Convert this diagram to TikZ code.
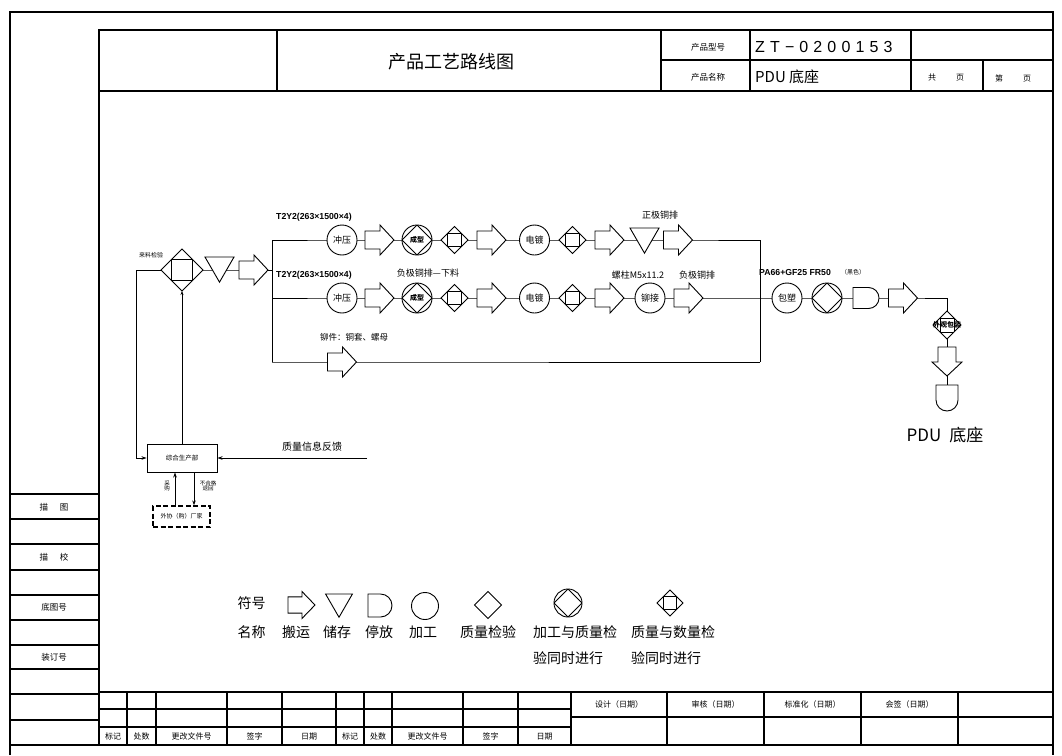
\documentclass[tikz,border=0pt]{standalone}
\usepackage{fontspec}
\setmainfont{Noto Sans CJK SC}
\newfontfamily\lat{Liberation Sans}
\newfontfamily\spc[LetterSpace=32]{Liberation Sans}
\usetikzlibrary{shapes.geometric,shapes.misc,arrows.meta,backgrounds,calc}
\newcommand\fsz[1]{\fontsize{#1}{#1}\selectfont}
\makeatletter
\pgfdeclareshape{carryarrow}{%
  \inheritsavedanchors[from=rectangle]%
  \inheritanchorborder[from=rectangle]%
  \inheritanchor[from=rectangle]{center}%
  \inheritanchor[from=rectangle]{north}%
  \inheritanchor[from=rectangle]{south}%
  \inheritanchor[from=rectangle]{east}%
  \inheritanchor[from=rectangle]{west}%
  \backgroundpath{%
    \southwest \pgf@xa=\pgf@x \pgf@ya=\pgf@y
    \northeast \pgf@xb=\pgf@x \pgf@yb=\pgf@y
    \pgf@xc=.483\pgf@xa \advance\pgf@xc by .517\pgf@xb
    \pgf@yc=.5\pgf@ya \advance\pgf@yc by .5\pgf@yb
    \pgf@x=\pgf@yb \advance\pgf@x by -\pgf@ya \pgf@x=.3\pgf@x
    \pgf@y=\pgf@yc \advance\pgf@y by \pgf@x \edef\cbt{\the\pgf@y}%
    \pgf@y=\pgf@yc \advance\pgf@y by -\pgf@x \edef\cbb{\the\pgf@y}%
    \edef\cxa{\the\pgf@xa}\edef\cxb{\the\pgf@xb}\edef\cxc{\the\pgf@xc}%
    \edef\cya{\the\pgf@ya}\edef\cyb{\the\pgf@yb}\edef\cyc{\the\pgf@yc}%
    \pgfpathmoveto{\pgfqpoint{\cxa}{\cbt}}%
    \pgfpathlineto{\pgfqpoint{\cxc}{\cbt}}%
    \pgfpathlineto{\pgfqpoint{\cxc}{\cyb}}%
    \pgfpathlineto{\pgfqpoint{\cxb}{\cyc}}%
    \pgfpathlineto{\pgfqpoint{\cxc}{\cya}}%
    \pgfpathlineto{\pgfqpoint{\cxc}{\cbb}}%
    \pgfpathlineto{\pgfqpoint{\cxa}{\cbb}}%
    \pgfpathclose
  }%
}
\makeatother
\tikzset{
  frm/.style={line width=1.1pt},
  ln/.style={line width=0.9pt},
  sym/.style={draw, fill=white, line width=0.9pt, inner sep=0pt, outer sep=0pt},
  carry/.style={sym, shape=carryarrow, minimum width=29pt, minimum height=30pt},
  store/.style={sym, regular polygon, regular polygon sides=3, shape border rotate=180, minimum size=33.5pt},
  park/.style={sym, rounded rectangle, rounded rectangle left arc=none, minimum width=26pt, minimum height=21pt},
  proc/.style={sym, circle, minimum size=30pt, font=\fsz{9}},
  procq/.style={proc, path picture={\draw[line width=0.9pt] (path picture bounding box.north) -- (path picture bounding box.east) -- (path picture bounding box.south) -- (path picture bounding box.west) -- cycle;}},
  insp/.style={sym, diamond, aspect=1, minimum width=27pt, minimum height=27pt},
  inspq/.style={insp, path picture={\draw[line width=0.9pt] ($(path picture bounding box.center)!0.5!(path picture bounding box.south west)$) rectangle ($(path picture bounding box.center)!0.5!(path picture bounding box.north east)$);}},
  lbl/.style={inner sep=0pt, font=\fsz{9}},
  tip/.style={-{Stealth[length=5pt,width=3.5pt]}},
}
\begin{document}
\begin{tikzpicture}[x=1pt,y=-1pt]
\useasboundingbox (0,0) rectangle (1062,755);
% ---------- frames ----------
\draw[frm] (10,755) -- (10,12) -- (1053,12) -- (1053,755);
\draw[frm] (99,30) rectangle (1053,745);
\draw[frm] (10,745) -- (99,745);
\draw[frm] (99,91) -- (1053,91);
\foreach \x in {277,661,750,911} \draw[frm] (\x,30) -- (\x,91);
\draw[frm] (983,60) -- (983,91);
\draw[frm] (661,60) -- (1053,60);
% left panel
\foreach \y in {494,519,544,570,595,620,645,669,694,720} \draw[frm] (10,\y) -- (99,\y);
% bottom table
\draw[frm] (99,692) -- (1053,692);
\draw[frm] (99,709) -- (571,709);
\draw[frm] (99,727) -- (571,727);
\draw[frm] (571,717) -- (1053,717);
\foreach \x in {127,156,227,282,336,364,392,463,518,571,667,764,861,958} \draw[frm] (\x,692) -- (\x,745);
% ---------- title texts ----------
\node[lbl,font=\fsz{18}] (ttl) at (451,62) {产品工艺路线图};
\node[lbl,font=\fsz{8.5}] (pxh) at (708,47) {产品型号};
\node[lbl,font=\fsz{8.5}] (pmc) at (708,77) {产品名称};
\node[lbl,anchor=west,font=\spc\fsz{16}] (pno) at (755,47) {ZT−0200153};
\node[lbl,anchor=west,font=\fsz{15}] (pnm) at (755,77) {PDU 底座};
\node[lbl,font=\fsz{8}] (gy) at (946,78) {共\hspace{20pt}页};
\node[lbl,font=\fsz{8}] (dy) at (1013,78) {第\hspace{20pt}页};
% left panel texts
\node[lbl,font=\fsz{8.5}] (lp1) at (54,507) {描\hspace{12pt}图};
\node[lbl,font=\fsz{8.5}] (lp2) at (54,557) {描\hspace{12pt}校};
\node[lbl,font=\fsz{8.5}] (lp3) at (54,607) {底图号};
\node[lbl,font=\fsz{8.5}] (lp4) at (54,657) {装订号};
% bottom table texts
\foreach \x/\t [count=\i] in {113/标记,141.5/处数,191.5/更改文件号,254.5/签字,309/日期,350/标记,378/处数,427.5/更改文件号,490.5/签字,544.5/日期}
  \node[lbl,font=\fsz{8}] (bt\i) at (\x,736.5) {\t};
\foreach \x/\t [count=\i] in {619/设计（日期）,715.5/审核（日期）,812.5/标准化（日期）,909.5/会签（日期）}
  \node[lbl,font=\fsz{8}] (rt\i) at (\x,704) {\t};
% ---------- flow symbols ----------
% incoming inspection
\node[inspq, minimum width=42pt, minimum height=42pt] (q0) at (182,270) {};
\node[store] (tr0) at (219.5,265.4) {};
\node[carry] (a0) at (253.5,270) {};
\node[lbl,font=\fsz{6}] (llj) at (151,255) {来料检验};
\coordinate (b0) at (272,270);
\coordinate (b1) at (272,240);
\coordinate (b2) at (272,298);
\coordinate (b3) at (272,362);
\coordinate (e1) at (760,240);
\coordinate (e3) at (760,362);
\coordinate (lft) at (136,270);
\coordinate (kk) at (947,298);
% row 1
\node[proc] (c11) at (342,240) {冲压};
\node[carry] (a11) at (379.5,240) {};
\node[procq,font=\fsz{7}\bfseries] (q11) at (417,240) {成型};
\node[inspq] (i11) at (454.5,240) {};
\node[carry] (a12) at (491.5,240) {};
\node[proc] (c12) at (534.5,240) {电镀};
\node[inspq] (i12) at (572.5,240) {};
\node[carry] (a13) at (609.5,240) {};
\node[store] (t11) at (644.5,236.4) {};
\node[carry] (a14) at (678,240) {};
% row 2
\node[proc] (c21) at (342,298) {冲压};
\node[carry] (a21) at (379.5,298) {};
\node[procq,font=\fsz{7}\bfseries] (q21) at (417,298) {成型};
\node[inspq] (i21) at (454.5,298) {};
\node[carry] (a22) at (491.5,298) {};
\node[proc] (c22) at (534.5,298) {电镀};
\node[inspq] (i22) at (572.5,298) {};
\node[carry] (a23) at (609.5,298) {};
\node[proc] (c23) at (650,298) {铆接};
\node[carry] (a24) at (688.5,298) {};
\node[proc] (c24) at (787,298) {包塑};
\node[procq] (q24) at (827,298) {};
\node[park] (d21) at (866,298) {};
\node[carry] (a25) at (903,298) {};
\node[inspq, minimum width=28pt, minimum height=28pt] (ip) at (947,325) {};
\node[lbl,font=\fsz{7}\bfseries] (ipt) at (947,325) {外观包装};
\node[carry, rotate=-90] (ad) at (947,361.5) {};
\node[park, rotate=-90, minimum height=22pt] (dd) at (947,398) {};
% row 3
\node[carry] (a31) at (342,362) {};
% labels
\node[lbl,anchor=west,font=\lat\bfseries\fsz{8.7}] (m1) at (276,217) {T2Y2(263×1500×4)};
\node[lbl,anchor=west,font=\lat\bfseries\fsz{8.7}] (m2) at (276,275) {T2Y2(263×1500×4)};
\node[lbl] (zj) at (660,215) {正极铜排};
\node[lbl] (fjx) at (428,273) {负极铜排—下料};
\node[lbl] (lz) at (638,275) {螺柱M5x11.2};
\node[lbl] (fj) at (697,275) {负极铜排};
\node[lbl,anchor=west,font=\lat\bfseries\fsz{8.7}] (pa) at (759,273) {PA66+GF25 FR50};
\node[lbl,anchor=west,font=\fsz{6}] (hs) at (841,272) {（黑色）};
\node[lbl,font=\fsz{8.5}] (mj) at (354,337) {铆件：铜套、螺母};
\node[lbl,font=\fsz{17}] (prd) at (945,435) {PDU\hspace{8pt}底座};
% feedback area
\node[draw, ln, fill=white, minimum width=70pt, minimum height=28pt, inner sep=0pt, font=\fsz{6.5}] (box) at (182,458) {综合生产部};
\node[draw, line width=1.3pt, dash pattern=on 5pt off 2.5pt, minimum width=57pt, minimum height=21pt, inner sep=0pt, font=\fsz{6}] (ext) at (181.5,516.5) {外协（购）厂家};
\coordinate (fb) at (367,458);
\coordinate (pu) at (175,506);
\coordinate (rj) at (194,472);
\node[lbl,font=\fsz{10}] (zlx) at (312,447) {质量信息反馈};
\node[lbl,font=\fsz{5.5},align=center] (cg) at (167,486) {采\\购};
\node[lbl,font=\fsz{5.5},align=center] (bhg) at (208,486) {不合格\\退回};
% ---------- connectors ----------
\begin{scope}[on background layer]
\draw[ln] (q0.center) -- (a0.center) -- (b0);
\draw[ln] (b1) -- (b3);
\draw[ln] (e1) -- (e3);
\draw[ln] (b1) -- (c11.center) -- (a11.center) -- (q11.center) -- (i11.center) -- (a12.center) -- (c12.center) -- (i12.center) -- (a13.center) -- (a14.center) -- (e1);
\draw[ln] (b2) -- (c21.center) -- (a21.center) -- (q21.center) -- (i21.center) -- (a22.center) -- (c22.center) -- (i22.center) -- (a23.center) -- (c23.center) -- (a24.center) -- (c24.center) -- (q24.center) -- (d21.center) -- (a25.center) -- (kk) -- (ip.center) -- (ad.center) -- (dd.center);
\draw[ln] (b3) -- (a31.center) -- (e3);
\draw[ln,tip] (q0.west) -- (lft) |- (box.west);
\draw[ln,{Stealth[length=4pt,width=3pt]}-] (q0.south) -- (box.north);
\draw[ln,tip] (fb) -- (box.east);
\draw[ln,tip] (pu) -- (pu |- box.south);
\draw[ln,tip] (rj) -- (rj |- ext.north);
\end{scope}
% ---------- legend ----------
\node[lbl,font=\fsz{14}] (fh) at (251.5,603) {符号};
\node[lbl,font=\fsz{14}] (mc) at (251.5,632) {名称};
\node[carry, minimum width=27pt, minimum height=27pt] (l1) at (301.5,605) {};
\node[store, minimum size=31pt] (l2) at (339,601.75) {};
\node[park, minimum width=24pt, minimum height=23pt] (l3) at (380,605.5) {};
\node[proc, minimum size=27pt] (l4) at (425,606) {};
\node[insp] (l5) at (488,605) {};
\node[procq, minimum size=28pt] (l6) at (568,603) {};
\node[inspq, minimum width=26pt, minimum height=26pt] (l7) at (670,603) {};
\foreach \x/\t [count=\i] in {296/搬运,337/储存,379/停放,423/加工,488/质量检验}
  \node[lbl,font=\fsz{14}] (n\i) at (\x,632) {\t};
\node[lbl,font=\fsz{14},anchor=west] (n6a) at (533,632) {加工与质量检};
\node[lbl,font=\fsz{14},anchor=west] (n6b) at (533,658) {验同时进行};
\node[lbl,font=\fsz{14},anchor=west] (n7a) at (631,632) {质量与数量检};
\node[lbl,font=\fsz{14},anchor=west] (n7b) at (631,658) {验同时进行};
\end{tikzpicture}
\end{document}
